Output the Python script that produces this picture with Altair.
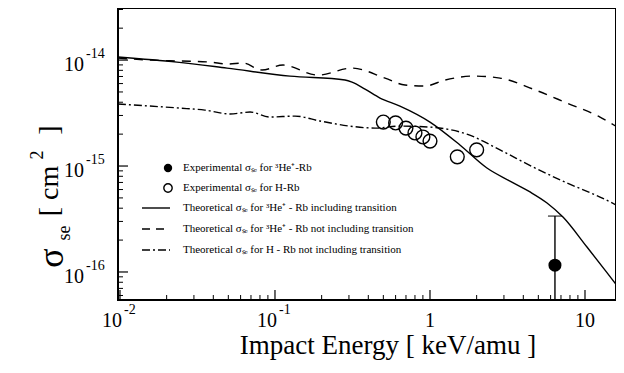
import altair as alt
import pandas as pd

# ---------------- data ----------------
# Theoretical sigma_se for 3He+ - Rb including transition (solid)
solid_E = [0.0097, 0.0233, 0.049, 0.125, 0.283, 0.314, 0.381, 0.476, 0.640, 1.0, 1.56, 2.33, 3.28, 4.42, 5.69, 7.21, 10.3, 13.9, 17.3]
solid_S = [1.07e-14, 9.57e-15, 8.4e-15, 7.06e-15, 6.48e-15, 6.2e-15, 5.32e-15, 4.38e-15, 3.68e-15, 2.6e-15, 1.58e-15, 9.57e-16, 7.2e-16, 5.69e-16, 4.48e-16, 3.3e-16, 1.72e-16, 9.8e-17, 6.47e-17]

# Theoretical sigma_se for 3He+ - Rb not including transition (dashed)
dash_E = [0.0097, 0.0156, 0.0244, 0.0381, 0.0498, 0.0622, 0.0825, 0.1127, 0.189, 0.314, 0.513, 0.690, 0.929, 1.25, 1.89, 2.83, 4.62, 7.65, 12.5, 17.3]
dash_S = [1.045e-14, 1.0e-14, 9.8e-15, 9.57e-15, 9.17e-15, 9.37e-15, 8.05e-15, 8.97e-15, 7.21e-15, 8.4e-15, 6.76e-15, 5.81e-15, 5.69e-15, 6.48e-15, 7.06e-15, 6.76e-15, 5.32e-15, 3.93e-15, 2.9e-15, 2.19e-15]

# Theoretical sigma_se for H - Rb not including transition (dash-dot)
dd_E = [0.0097, 0.0156, 0.0244, 0.0353, 0.0513, 0.069, 0.0929, 0.1346, 0.195, 0.305, 0.442, 0.640, 1.0, 1.73, 2.83, 4.62, 7.65, 12.5, 17.3]
dd_S = [3.85e-15, 3.68e-15, 3.52e-15, 3.37e-15, 3.10e-15, 3.23e-15, 2.90e-15, 2.96e-15, 2.66e-15, 2.38e-15, 2.28e-15, 2.38e-15, 2.33e-15, 2.0e-15, 1.42e-15, 9.8e-16, 6.92e-16, 5.1e-16, 4.02e-16]

# Experimental sigma_se for H-Rb (open circles)
h_E = [0.5, 0.6, 0.7, 0.8, 0.9, 1.0, 1.5, 2.0]
h_S = [2.6e-15, 2.55e-15, 2.28e-15, 2.05e-15, 1.88e-15, 1.72e-15, 1.22e-15, 1.42e-15]

# Experimental sigma_se for 3He+-Rb (filled circle with error bar)
he_E = [6.4]
he_S = [1.16e-16]
he_hi = [3.37e-16]
he_lo = [1.0e-17]

# axis ticks / labels
x_major = [0.01, 0.1, 1, 10]
x_sup_vals = [0.01, 0.1]
x_sup_text = ["-2", "-1"]
x_plain_vals = [1, 10]
x_plain_text = ["1", "10"]
y_major = [1e-14, 1e-15, 1e-16]
y_sup_text = ["-14", "-15", "-16"]

legend_labels = [
    "Experimental σₛₑ for ³He⁺-Rb",
    "Experimental σₛₑ for H-Rb",
    "Theoretical σₛₑ for ³He⁺ - Rb including transition",
    "Theoretical σₛₑ  for ³He⁺ - Rb not including transition",
    "Theoretical σₛₑ for H - Rb not including transition",
]

# ---------------- chart ----------------
FONT = "Liberation Serif"
W, H = 498, 292
XMIN, XMAX = 0.00971, 15.85
YMIN, YMAX = 5.44e-17, 3.10e-14
xs = alt.Scale(type="log", domain=[XMIN, XMAX])
ys = alt.Scale(type="log", domain=[YMIN, YMAX])


def X(f="E"):
    return alt.X(f"{f}:Q", scale=xs, axis=None)


def Y(f="S"):
    return alt.Y(f"{f}:Q", scale=ys, axis=None)


x_minor = [m * 10 ** d for d in (-2, -1, 0, 1) for m in range(2, 10) if XMIN < m * 10 ** d < XMAX]
y_minor = [m * 10.0 ** d for d in (-17, -16, -15, -14) for m in range(2, 10) if YMIN < m * 10.0 ** d < YMAX]

df_solid = pd.DataFrame({"E": solid_E, "S": solid_S})
df_dash = pd.DataFrame({"E": dash_E, "S": dash_S})
df_dd = pd.DataFrame({"E": dd_E, "S": dd_S})
df_h = pd.DataFrame({"E": h_E, "S": h_S})
df_he = pd.DataFrame({"E": he_E, "S": he_S, "hi": he_hi, "lo": he_lo})

line_kw = dict(color="black", strokeWidth=1.4, clip=True, interpolate="monotone")
solid = alt.Chart(df_solid).mark_line(**line_kw).encode(x=X(), y=Y())
dashed = alt.Chart(df_dash).mark_line(strokeDash=[9, 7], **line_kw).encode(x=X(), y=Y())
dashdot = alt.Chart(df_dd).mark_line(strokeDash=[8, 3, 2, 3], **line_kw).encode(x=X(), y=Y())

h_pts = alt.Chart(df_h).mark_point(shape="circle", size=190, color="black", strokeWidth=1.4, filled=False, opacity=1).encode(x=X(), y=Y())
he_bar = alt.Chart(df_he).mark_rule(color="black", strokeWidth=1.4, clip=True).encode(x=X(), y=Y("lo"), y2="hi:Q")
he_cap = alt.Chart(df_he).mark_tick(orient="horizontal", size=14, thickness=1.4, color="black").encode(x=X(), y=Y("hi"))
he_pt = alt.Chart(df_he).mark_point(shape="circle", size=170, color="black", filled=True, opacity=1).encode(x=X(), y=Y())

# frame
frame = alt.Chart(pd.DataFrame({"k": [0]})).mark_rect(fillOpacity=0, stroke="black", strokeWidth=2).encode(
    x=alt.value(0), x2=alt.value(W), y=alt.value(0), y2=alt.value(H))

# ticks (inward)
tx_major = alt.Chart(pd.DataFrame({"v": x_major})).mark_rule(color="black", strokeWidth=1.2).encode(
    x=X("v"), y=alt.value(H), y2=alt.value(H - 10))
tx_minor = alt.Chart(pd.DataFrame({"v": x_minor})).mark_rule(color="black", strokeWidth=1).encode(
    x=X("v"), y=alt.value(H), y2=alt.value(H - 5))
ty_major = alt.Chart(pd.DataFrame({"v": y_major})).mark_rule(color="black", strokeWidth=1.2).encode(
    y=Y("v"), x=alt.value(0), x2=alt.value(10))
ty_minor = alt.Chart(pd.DataFrame({"v": y_minor})).mark_rule(color="black", strokeWidth=1).encode(
    y=Y("v"), x=alt.value(0), x2=alt.value(5))

# tick labels
txt = dict(font=FONT, color="black")
xl_base = alt.Chart(pd.DataFrame({"v": x_sup_vals})).mark_text(fontSize=20, align="center", baseline="middle", dx=-8, **txt).encode(
    x=X("v"), y=alt.value(H + 21), text=alt.value("10"))
xl_sup = alt.Chart(pd.DataFrame({"v": x_sup_vals, "t": x_sup_text})).mark_text(fontSize=14, align="left", baseline="middle", dx=4, **txt).encode(
    x=X("v"), y=alt.value(H + 10), text="t:N")
xl_plain = alt.Chart(pd.DataFrame({"v": x_plain_vals, "t": x_plain_text})).mark_text(fontSize=20, align="center", baseline="middle", **txt).encode(
    x=X("v"), y=alt.value(H + 21), text="t:N")
yl_base = alt.Chart(pd.DataFrame({"v": y_major})).mark_text(fontSize=20, align="right", baseline="middle", dy=5, **txt).encode(
    y=Y("v"), x=alt.value(-34), text=alt.value("10"))
yl_sup = alt.Chart(pd.DataFrame({"v": y_major, "t": y_sup_text})).mark_text(fontSize=14, align="left", baseline="middle", dy=-6, **txt).encode(
    y=Y("v"), x=alt.value(-32), text="t:N")

# axis titles
x_title = alt.Chart(pd.DataFrame({"t": ["Impact Energy [ keV/amu ]"]})).mark_text(fontSize=27, align="center", baseline="middle", **txt).encode(
    x=alt.value(270), y=alt.value(338), text="t:N")
ytitle_parts = pd.DataFrame({
    "t": ["σ", "se", "[ cm", "2", "]"],
    "px": [-66, -53, -68, -80, -68],
    "py": [250, 225, 183, 147, 122],
    "fs": [36, 18, 28, 18, 28],
})
y_title = alt.Chart(ytitle_parts).mark_text(angle=270, align="center", baseline="middle", **txt).encode(
    x=alt.X("px:Q", scale=None), y=alt.Y("py:Q", scale=None), text="t:N",
    size=alt.Size("fs:Q", scale=None, legend=None))

# legend (inside plot)
leg_y = [160, 180, 200, 221, 242]
leg_df = pd.DataFrame({"t": legend_labels, "py": leg_y})
leg_text = alt.Chart(leg_df).mark_text(fontSize=11, align="left", baseline="middle", **txt).encode(
    x=alt.value(65), y=alt.Y("py:Q", scale=None), text="t:N")
leg_fill = alt.Chart(pd.DataFrame({"py": [leg_y[0]]})).mark_point(shape="circle", size=70, filled=True, color="black", opacity=1).encode(
    x=alt.value(50), y=alt.Y("py:Q", scale=None))
leg_open = alt.Chart(pd.DataFrame({"py": [leg_y[1]]})).mark_point(shape="circle", size=70, filled=False, color="black", strokeWidth=1.4, opacity=1).encode(
    x=alt.value(50), y=alt.Y("py:Q", scale=None))
leg_solid = alt.Chart(pd.DataFrame({"py": [leg_y[2]]})).mark_rule(color="black", strokeWidth=1.4).encode(
    x=alt.value(24), x2=alt.value(52), y=alt.Y("py:Q", scale=None))
leg_dash = alt.Chart(pd.DataFrame({"py": [leg_y[3]]})).mark_rule(color="black", strokeWidth=1.4, strokeDash=[8, 6]).encode(
    x=alt.value(24), x2=alt.value(52), y=alt.Y("py:Q", scale=None))
leg_dd = alt.Chart(pd.DataFrame({"py": [leg_y[4]]})).mark_rule(color="black", strokeWidth=1.4, strokeDash=[8, 3, 2, 3]).encode(
    x=alt.value(24), x2=alt.value(52), y=alt.Y("py:Q", scale=None))

chart = alt.layer(
    tx_minor, tx_major, ty_minor, ty_major, frame,
    dashed, dashdot, solid, h_pts, he_bar, he_cap, he_pt,
    xl_base, xl_sup, xl_plain, yl_base, yl_sup, x_title, y_title,
    leg_text, leg_fill, leg_open, leg_solid, leg_dash, leg_dd,
).properties(
    width=W, height=H,
    autosize=alt.AutoSizeParams(type="none"),
    padding={"left": 110, "top": 0, "right": 0, "bottom": 60},
    background="white",
).configure_view(strokeWidth=0)

chart.save("out.html", embed_options={"renderer": "svg", "actions": False})
